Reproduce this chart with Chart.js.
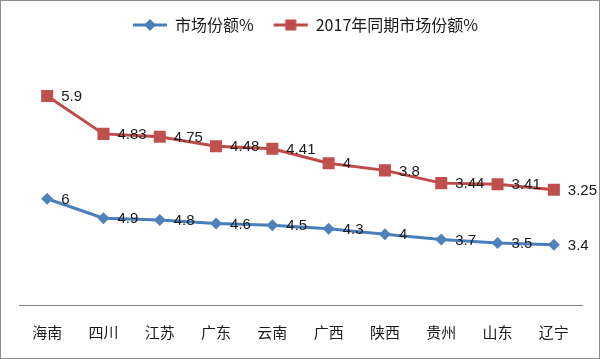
<!DOCTYPE html>
<html>
<head>
<meta charset="utf-8">
<script src="https://cdn.jsdelivr.net/npm/chart.js@4"></script>
<style>
  html, body { margin: 0; padding: 0; background: #fff; }
  #wrap { width: 600px; height: 359px; }
</style>
</head>
<body>
<div id="wrap"><canvas id="shareChart" width="600" height="359"></canvas></div>
<script>
const provinces = ["海南", "四川", "江苏", "广东", "云南", "广西", "陕西", "贵州", "山东", "辽宁"];
const share2018 = [6, 4.9, 4.8, 4.6, 4.5, 4.3, 4, 3.7, 3.5, 3.4];
const share2017 = [5.9, 4.83, 4.75, 4.48, 4.41, 4, 3.8, 3.44, 3.41, 3.25];

const BLUE = "#4A7EBB";
const RED = "#BE4B48";

// legend swatch: line with marker, like the office style legend
function legendSwatch(color, shape) {
    const c = document.createElement("canvas");
    c.width = 48;
    c.height = 14;
    const g = c.getContext("2d");
    g.strokeStyle = color;
    g.lineWidth = 3;
    g.beginPath();
    g.moveTo(12, 7);
    g.lineTo(46, 7);
    g.stroke();
    g.fillStyle = color;
    g.beginPath();
    if (shape === "diamond") {
        g.moveTo(29, 1); g.lineTo(35, 7); g.lineTo(29, 13); g.lineTo(23, 7);
    } else {
        g.rect(23.5, 1.5, 11, 11);
    }
    g.closePath();
    g.fill();
    return c;
}

const frame = {
    id: "frame",
    beforeDraw(chart) {
        const ctx = chart.ctx;
        ctx.save();
        ctx.fillStyle = "#fff";
        ctx.fillRect(0, 0, chart.width, chart.height);
        ctx.strokeStyle = "#8c8c8c";
        ctx.lineWidth = 1;
        ctx.strokeRect(0.5, 0.5, chart.width - 1, chart.height - 1);
        ctx.restore();
    }
};

const legendGap = {
    id: "legendGap",
    beforeInit(chart) {
        const fit = chart.legend.fit;
        chart.legend.fit = function () {
            fit.bind(chart.legend)();
            this.height += 14;
        };
    }
};

const valueLabels = {
    id: "valueLabels",
    afterDatasetsDraw(chart) {
        const ctx = chart.ctx;
        ctx.save();
        ctx.font = "15px 'Liberation Sans', sans-serif";
        ctx.fillStyle = "#1a1a1a";
        ctx.textAlign = "left";
        ctx.textBaseline = "middle";
        chart.data.datasets.forEach((ds, i) => {
            chart.getDatasetMeta(i).data.forEach((pt, j) => {
                ctx.fillText(String(ds.data[j]), pt.x + 14, pt.y + 1);
            });
        });
        ctx.restore();
    }
};

const ctx = document.getElementById("shareChart").getContext("2d");
new Chart(ctx, {
    type: "line",
    data: {
        labels: provinces,
        datasets: [
            {
                label: "市场份额%",
                data: share2018,
                yAxisID: "yNow",
                borderColor: BLUE,
                backgroundColor: "#4F81BD",
                borderWidth: 3,
                pointStyle: "rectRot",
                pointRadius: 6,
                pointBorderWidth: 0,
                tension: 0
            },
            {
                label: "2017年同期市场份额%",
                data: share2017,
                yAxisID: "yLast",
                borderColor: RED,
                backgroundColor: "#C0504D",
                borderWidth: 3,
                pointStyle: "rect",
                pointRadius: 8.5,
                pointBorderWidth: 0,
                tension: 0
            }
        ]
    },
    options: {
        responsive: false,
        animation: false,
        layout: { padding: { left: 19, right: 18, top: 7, bottom: 0 } },
        plugins: {
            tooltip: { enabled: false },
            legend: {
                position: "top",
                labels: {
                    usePointStyle: true,
                    pointStyleWidth: 44,
                    padding: 10,
                    color: "#1a1a1a",
                    font: { family: "'Noto Sans CJK SC', sans-serif", size: 16 },
                    generateLabels(chart) {
                        return chart.data.datasets.map((ds, i) => ({
                            text: ds.label,
                            fontColor: "#1a1a1a",
                            pointStyle: legendSwatch(ds.borderColor, i === 0 ? "diamond" : "square"),
                            datasetIndex: i,
                            hidden: false,
                            lineWidth: 0,
                            strokeStyle: "transparent",
                            fillStyle: "transparent"
                        }));
                    }
                }
            }
        },
        scales: {
            x: {
                offset: true,
                grid: { display: false, drawTicks: false },
                border: { display: true, color: "#868686", width: 1 },
                ticks: {
                    padding: 18,
                    color: "#1a1a1a",
                    font: { family: "'Noto Sans CJK SC', sans-serif", size: 15 }
                }
            },
            yLast: { display: false, min: 0, max: 7 },
            yNow: { display: false, min: 0, max: 14 }
        }
    },
    plugins: [frame, legendGap, valueLabels]
});
</script>
</body>
</html>
